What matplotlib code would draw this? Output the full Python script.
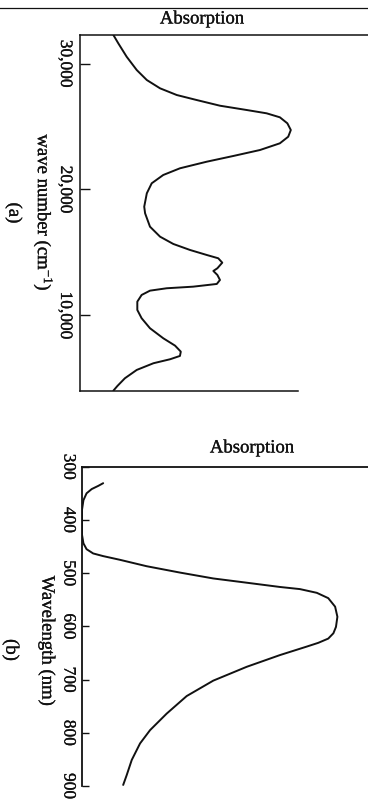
import matplotlib
matplotlib.use("Agg")
import matplotlib.pyplot as plt
import matplotlib.patheffects as pe
from matplotlib.lines import Line2D
from matplotlib.ticker import FixedLocator, StrMethodFormatter

plt.rcParams['font.family'] = ['Liberation Serif', 'DejaVu Serif']
plt.rcParams['mathtext.fontset'] = 'custom'
plt.rcParams['mathtext.rm'] = 'Liberation Serif'
plt.rcParams['mathtext.it'] = 'Liberation Serif:italic'

# (a) absorption against wave number (cm^-1)
wavenumber = [32267, 31608, 30544, 29488, 28694, 28035, 27503, 27106, 26654,
              26312, 26050, 25733, 25256, 24724, 24192, 23668, 23136, 22660,
              22207, 21683, 21151, 20492, 19698, 18634, 18110, 17046, 16252,
              15673, 15196, 14799, 14537, 14188, 13743, 13529, 13211, 12814,
              12497, 12282, 12155, 11965, 11623, 11091, 10432, 9773, 8979,
              8185, 7598, 7121, 6780, 6518, 6200, 5668, 5009, 4398, 4025]
absorb_a = [0.116, 0.133, 0.162, 0.197, 0.232, 0.278, 0.336, 0.405, 0.486,
            0.579, 0.648, 0.694, 0.720, 0.732, 0.723, 0.694, 0.625, 0.532,
            0.440, 0.347, 0.289, 0.249, 0.232, 0.223, 0.226, 0.243, 0.278,
            0.324, 0.382, 0.440, 0.480, 0.494, 0.477, 0.463, 0.477, 0.486,
            0.475, 0.393, 0.301, 0.243, 0.214, 0.199, 0.199, 0.214, 0.243,
            0.289, 0.330, 0.350, 0.347, 0.313, 0.255, 0.197, 0.156, 0.130,
            0.116]
ticks_a = [10000, 20000, 30000]

# (b) absorption against wavelength (nm)
wavelength = [331, 336, 342, 350, 363, 381, 428, 444, 455, 463, 468, 475, 487,
              499, 510, 518, 526, 530, 537, 547, 563, 582, 601, 613, 623, 631,
              638, 654, 676, 702, 731, 764, 795, 820, 851, 880, 898]
absorb_b = [0.074, 0.057, 0.034, 0.016, 0.005, 0.000, 0.000, 0.005, 0.016,
            0.039, 0.074, 0.133, 0.226, 0.343, 0.459, 0.576, 0.692, 0.762,
            0.821, 0.861, 0.885, 0.893, 0.888, 0.879, 0.861, 0.826, 0.786,
            0.692, 0.576, 0.459, 0.366, 0.296, 0.238, 0.203, 0.174, 0.156,
            0.144]
ticks_b = [300, 400, 500, 600, 700, 800, 900]

W, H = 368, 800
fig = plt.figure(figsize=(W / 100, H / 100), dpi=100)
fig.patch.set_facecolor('white')


def box(x0, y0, x1, y1):
    return [x0 / W, 1 - y1 / H, (x1 - x0) / W, (y1 - y0) / H]


ink = '#111111'
fs = 13.5
heavy = [pe.withStroke(linewidth=0.2, foreground=ink)]

# page rule across the top
fig.add_artist(Line2D([0, 1], [1 - 8 / H, 1 - 8 / H], color=ink, lw=0.9))


def style_ticks(ax, ticks, length, pad, fmt=None):
    ax.set_xticks([])
    ax.yaxis.set_major_locator(FixedLocator(ticks))
    if fmt:
        ax.yaxis.set_major_formatter(StrMethodFormatter(fmt))
    ax.tick_params(axis='y', direction='in', length=length, width=1.0,
                   color=ink, labelsize=12.5, pad=pad, labelcolor=ink)
    for lab in ax.get_yticklabels():
        lab.set_rotation(270)
        lab.set_va('center')
        lab.set_path_effects(heavy)


# ---- panel (a)
ax1 = fig.add_axes(box(80, 35, 368, 391))
ax1.plot(absorb_a, wavenumber, color=ink, lw=1.4, solid_joinstyle='round',
         solid_capstyle='round')
ax1.set_xlim(0, 1)
ax1.set_ylim(3995, 32270)
ax1.spines['right'].set_visible(False)
ax1.spines['bottom'].set_bounds(0, (298 - 80) / 288)
for s in ('left', 'top', 'bottom'):
    ax1.spines[s].set_linewidth(1.1)
    ax1.spines[s].set_color(ink)
style_ticks(ax1, ticks_a, 7, 5, '{x:,.0f}')
fig.text(202 / W, 1 - 19 / H, 'Absorption', ha='center', va='center',
         fontsize=fs, color=ink, path_effects=heavy)
fig.text(43 / W, 1 - 213 / H, 'wave number (cm$^{-1}$)', rotation=270,
         ha='center', va='center', fontsize=fs, color=ink, path_effects=heavy)
fig.text(14 / W, 1 - 213 / H, '(a)', rotation=270, ha='center', va='center',
         fontsize=fs, color=ink, path_effects=heavy)

# ---- panel (b)
ax2 = fig.add_axes(box(82, 466.7, 368, 786))
ax2.plot(absorb_b, wavelength, color=ink, lw=1.4, solid_joinstyle='round',
         solid_capstyle='round')
ax2.set_xlim(0, 1)
ax2.set_ylim(900, 300)
ax2.spines['right'].set_visible(False)
ax2.spines['bottom'].set_visible(False)
for s in ('left', 'top'):
    ax2.spines[s].set_linewidth(1.3)
    ax2.spines[s].set_color(ink)
style_ticks(ax2, ticks_b, 5, 4)
fig.text(252 / W, 1 - 448 / H, 'Absorption', ha='center', va='center',
         fontsize=fs, color=ink, path_effects=heavy)
fig.text(47 / W, 1 - 641 / H, 'Wavelength (nm)', rotation=270,
         ha='center', va='center', fontsize=fs, color=ink, path_effects=heavy)
fig.text(11 / W, 1 - 650 / H, '(b)', rotation=270, ha='center', va='center',
         fontsize=fs, color=ink, path_effects=heavy)

fig.savefig('out.png', dpi=100, facecolor='white')
